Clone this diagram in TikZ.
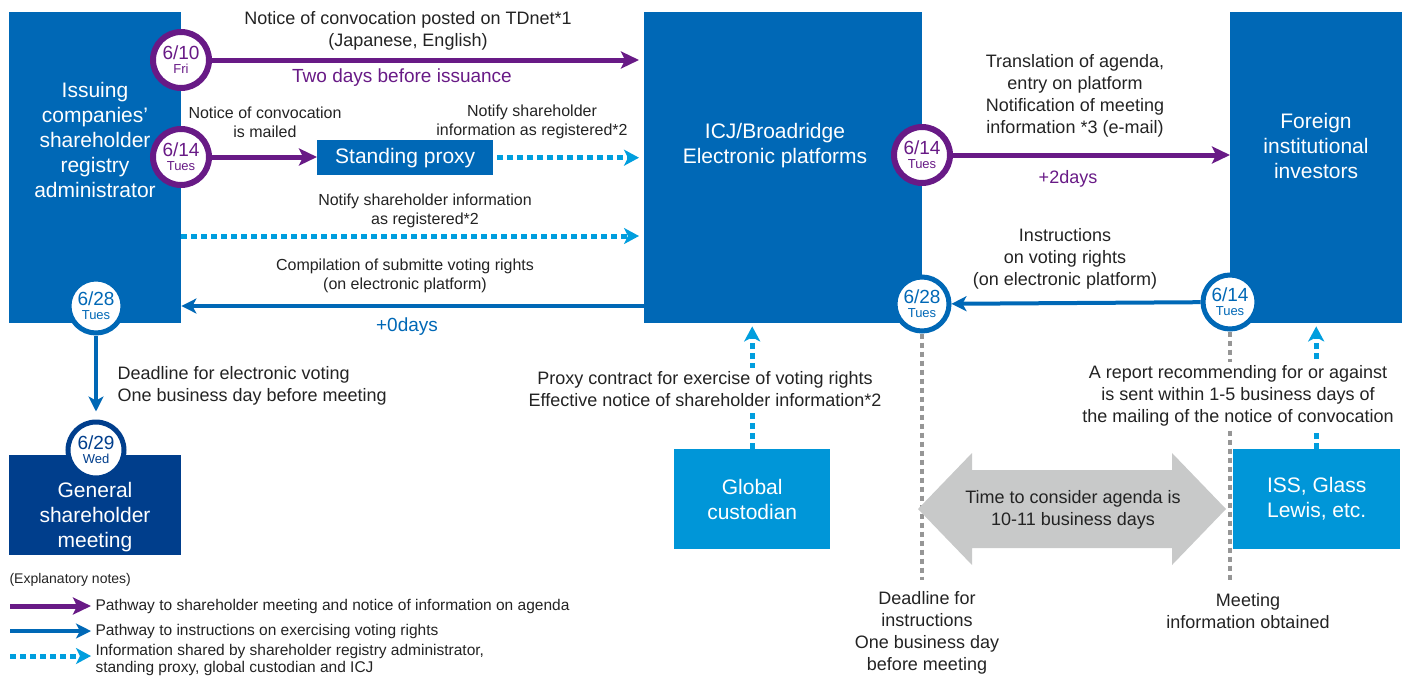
\documentclass[tikz,border=0pt]{standalone}
\usepackage{fontspec}
\setmainfont{Liberation Sans}
\usetikzlibrary{arrows.meta}

\definecolor{regblue}{RGB}{0,104,182}
\definecolor{navyblue}{RGB}{0,62,140}
\definecolor{skyblue}{RGB}{0,150,216}
\definecolor{dotblue}{RGB}{0,158,222}
\definecolor{notepurple}{RGB}{104,26,134}
\definecolor{agendagrey}{RGB}{200,201,201}
\definecolor{dotgrey}{RGB}{150,150,150}
\definecolor{notetext}{RGB}{35,35,35}

\newcommand{\datetext}[2]{#1\\[-6pt]{\fontsize{13}{14}\selectfont #2}}

\begin{document}
\begin{tikzpicture}[x=1pt,y=-1pt,
    bigbox/.style={fill=#1,inner sep=0pt,anchor=north west},
    boxtext/.style={text=white,align=center,font=\fontsize{21}{25}\selectfont},
    date/.style={circle,fill=white,draw=#1,text=#1,line width=5pt,minimum size=54pt,inner sep=0pt,align=center,font=\fontsize{19}{20}\selectfont},
    note/.style={text=notetext,align=center,font=\fontsize{18}{22}\selectfont},
    smallnote/.style={text=notetext,align=center,font=\fontsize{16}{19}\selectfont},
    legtext/.style={text=notetext,align=left,font=\fontsize{15.5}{17}\selectfont},
    purplearrow/.style={draw=notepurple,line width=5pt,-{Stealth[length=18pt,width=17pt,inset=4pt]}},
    bluearrow/.style={draw=regblue,line width=4pt,-{Stealth[length=15pt,width=15pt,inset=4pt]}},
    dotarrow/.style={draw=dotblue,line width=5pt,dash pattern=on 6pt off 4pt,-{Stealth[length=15pt,width=16pt,inset=4pt]}},
    greydots/.style={draw=dotgrey,line width=4.5pt,dash pattern=on 5pt off 4pt}]
  \useasboundingbox (0,0) rectangle (1415,675);

  % the boxes
  \node[bigbox=regblue,minimum width=172pt,minimum height=311pt] (issuer) at (9,12) {};
  \node[bigbox=regblue,minimum width=278pt,minimum height=311pt] (icj) at (644,12) {};
  \node[bigbox=regblue,minimum width=172pt,minimum height=311pt] (foreign) at (1230,12) {};
  \node[bigbox=regblue,minimum width=176pt,minimum height=35pt,boxtext] (proxy) at (317,140) {Standing proxy};
  \node[bigbox=navyblue,minimum width=172pt,minimum height=100pt] (meeting) at (9,455) {};
  \node[bigbox=skyblue,minimum width=156pt,minimum height=100pt,boxtext] (custodian) at (674,449) {Global\\custodian};
  \node[bigbox=skyblue,minimum width=167pt,minimum height=100pt,boxtext] (iss) at (1233,449) {ISS, Glass\\Lewis, etc.};

  \node[boxtext] (issuerlbl) at (95,140) {Issuing\\companies’\\shareholder\\registry\\administrator};
  \node[boxtext] (icjlbl) at (775,146) {ICJ/Broadridge\\Electronic platforms};
  \node[boxtext] (foreignlbl) at (1316,146) {Foreign\\institutional\\investors};
  \node[boxtext] (meetinglbl) at (95,517) {General\\shareholder\\meeting};

  % dates
  \node[date=notepurple,minimum size=56pt,line width=6pt] (d610) at (181,60) {\datetext{6/10}{Fri}};
  \node[date=notepurple,minimum size=56pt,line width=6pt] (d614a) at (181,157) {\datetext{6/14}{Tues}};
  \node[date=notepurple,minimum size=56pt,line width=6pt] (d614b) at (922,155) {\datetext{6/14}{Tues}};
  \node[date=regblue] (d628a) at (96,306) {\datetext{6/28}{Tues}};
  \node[date=regblue] (d628b) at (922,304) {\datetext{6/28}{Tues}};
  \node[date=regblue] (d614c) at (1230,302) {\datetext{6/14}{Tues}};

  % arrows
  \draw[purplearrow,shorten >=5pt] (d610) -- (d610 -| icj.west);
  \draw[purplearrow] (d614a) -- (d614a -| proxy.west);
  \draw[dotarrow,shorten <=4pt,shorten >=5pt] (proxy.east) -- (proxy.east -| icj.west);
  \coordinate (regrow) at (400,236);
  \draw[dotarrow,shorten >=5pt] (regrow -| issuer.east) -- (regrow -| icj.west);
  \draw[bluearrow] (d628a -| icj.west) -- (d628a -| issuer.east);
  \draw[purplearrow] (d614b) -- (d614b -| foreign.west);
  \draw[bluearrow] (d614c) -- (d628b);
  \draw[dotarrow,shorten >=3pt] (custodian.north) -- (custodian.north |- icj.south);
  \draw[dotarrow,shorten >=3pt] (foreign.south |- iss.north) -- (foreign.south);
  \coordinate (deadend) at (922,580);
  \coordinate (infoend) at (1230,580);
  \draw[greydots] (d628b) -- (deadend);
  \draw[greydots] (d614c) -- (infoend);

  \node[date=navyblue,minimum size=56pt] (d629) at (96,450) {\datetext{6/29}{Wed}};
  \draw[bluearrow,shorten >=8pt] (d628a) -- (d629);

  % time to consider agenda
  \fill[agendagrey] (918,509) -- (972,453) -- (972,470) -- (1172,470) -- (1172,453) -- (1226,509)
    -- (1172,565) -- (1172,548) -- (972,548) -- (972,565) -- cycle;
  \node[note] (lblagenda) at (1073,510) {Time to consider agenda is\\10-11 business days};

  % notes
  \node[note] (lblnotice) at (408,31) {Notice of convocation posted on TDnet*1\\(Japanese, English)};
  \node[note,text=notepurple,font=\fontsize{19}{22}\selectfont] (lbltwodays) at (402,78) {Two days before issuance};
  \node[smallnote] (lblmailed) at (265,122) {Notice of convocation\\is mailed};
  \node[smallnote] (lblnotifyproxy) at (532,122) {Notify shareholder\\information as registered*2};
  \node[smallnote] (lblnotifyreg) at (425,211) {Notify shareholder information\\as registered*2};
  \node[smallnote] (lblcompile) at (405,276) {Compilation of submitte voting rights\\(on electronic platform)};
  \node[note,text=regblue,font=\fontsize{19}{22}\selectfont] (lblzero) at (407,327) {+0days};
  \node[note] (lbltranslate) at (1075,96) {Translation of agenda,\\entry on platform\\Notification of meeting\\information *3 (e-mail)};
  \node[note,text=notepurple] (lbltwo) at (1068,179) {+2days};
  \node[note] (lblinstr) at (1065,259) {Instructions\\on voting rights\\(on electronic platform)};
  \node[note,align=left,anchor=west] (lbldeadline) at (114,386) {Deadline for electronic voting\\One business day before meeting};
  \node[note,fill=white] (lblproxy) at (705,389) {Proxy contract for exercise of voting rights\\Effective notice of shareholder information*2};
  \node[note,fill=white] (lblreport) at (1238,396) {A report recommending for or against\\is sent within 1-5 business days of\\the mailing of the notice of convocation};
  \node[note] (lblinstrdeadline) at (927,633) {Deadline for\\instructions\\One business day\\before meeting};
  \node[note] (lblobtained) at (1248,611) {Meeting\\information obtained};

  % explanatory notes
  \node[legtext,anchor=west,font=\fontsize{14}{16}\selectfont] (legtitle) at (6,580) {(Explanatory notes)};
  \foreach \i/\ly/\ty/\sty/\txt in {1/606/606/purplearrow/{Pathway to shareholder meeting and notice of information on agenda},
      2/631/631/bluearrow/{Pathway to instructions on exercising voting rights},
      3/656/660/dotarrow/{Information shared by shareholder registry administrator,\\standing proxy, global custodian and ICJ}}
  {
    \coordinate (leg\i a) at (10,\ly);
    \coordinate (leg\i b) at (91,\ly);
    \draw[\sty] (leg\i a) -- (leg\i b);
    \node[legtext,anchor=west] (legtxt\i) at (92,\ty) {\txt};
  }
\end{tikzpicture}
\end{document}
